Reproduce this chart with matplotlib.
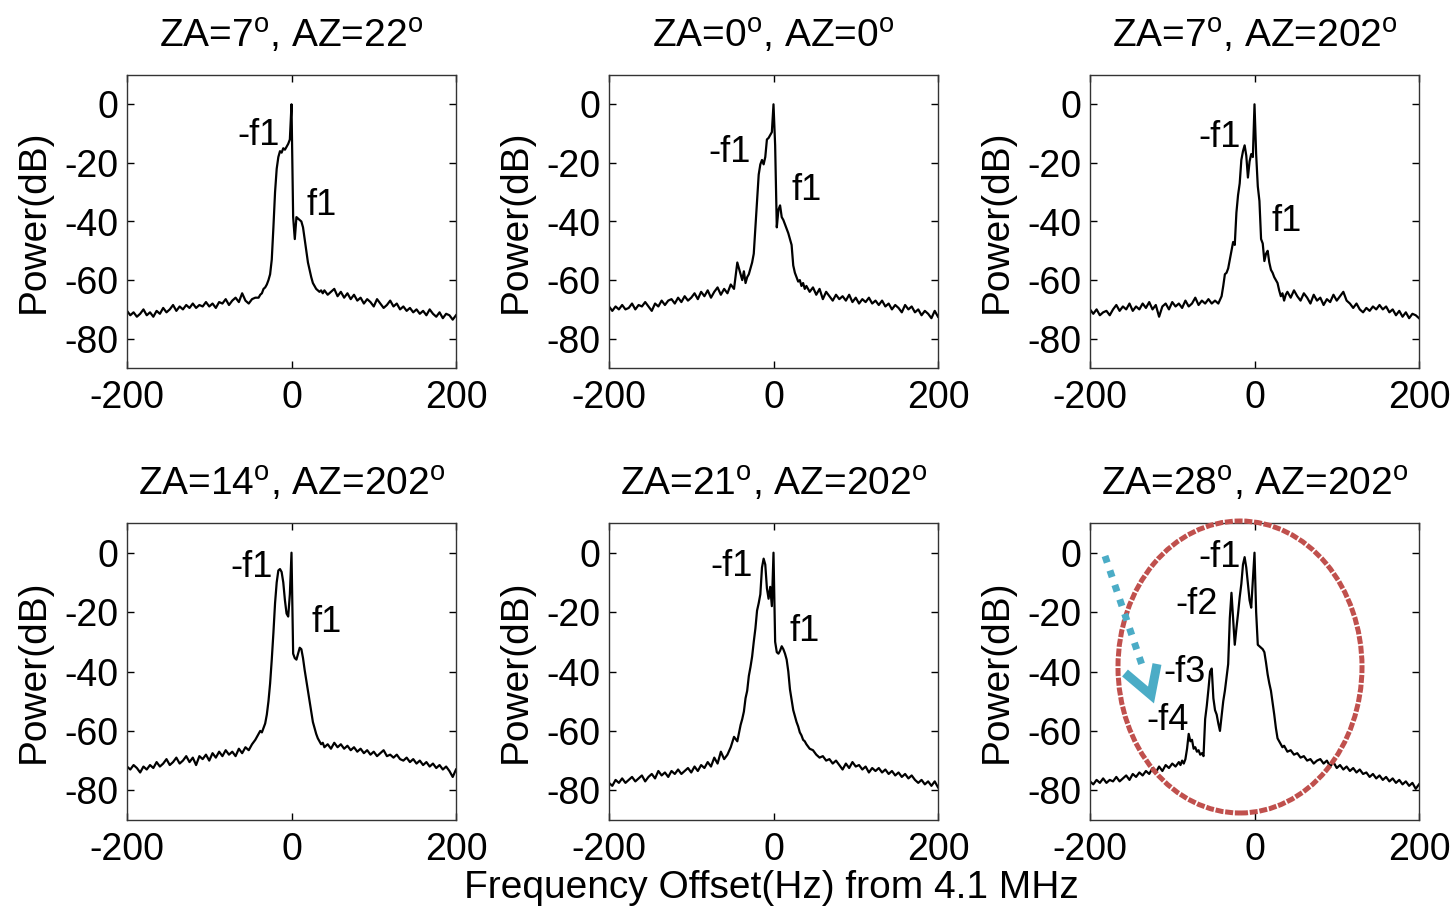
import numpy as np
import matplotlib
matplotlib.use('Agg')
import matplotlib.pyplot as plt
from matplotlib.patches import Ellipse
from matplotlib.lines import Line2D

plt.rcParams['font.family'] = ['Liberation Sans', 'DejaVu Sans']
plt.rcParams['mathtext.fontset'] = 'custom'
plt.rcParams['mathtext.rm'] = 'Liberation Sans'
plt.rcParams['mathtext.it'] = 'Liberation Sans:italic'
plt.rcParams['axes.unicode_minus'] = False

# ---------------- data ----------------
# sample frequencies (Hz offset) : coarse wings, fine centre
FREQ_A = np.concatenate([np.arange(-200, -40, 4), np.arange(-40, 40, 2), np.arange(40, 201, 4)])
FREQ_B = np.concatenate([np.arange(-200, -90, 4), np.arange(-90, 40, 2), np.arange(40, 201, 4)])

TITLES = ['ZA=7$^{\\rm o}$, AZ=22$^{\\rm o}$', 'ZA=0$^{\\rm o}$, AZ=0$^{\\rm o}$',
          'ZA=7$^{\\rm o}$, AZ=202$^{\\rm o}$', 'ZA=14$^{\\rm o}$, AZ=202$^{\\rm o}$',
          'ZA=21$^{\\rm o}$, AZ=202$^{\\rm o}$', 'ZA=28$^{\\rm o}$, AZ=202$^{\\rm o}$']

P1 = [-70.5, -72, -71, -72.5, -71.5, -70, -72, -71, -72.5, -70.5,
      -71.5, -69.5, -71, -70, -68.5, -70.5, -69, -70, -68.5, -69.5,
      -68, -69.5, -68.5, -69, -67.5, -69, -68, -69.5, -67.5, -68,
      -66.5, -68.5, -67, -66, -67.5, -64.5, -67, -68, -66.5, -66,
      -66, -65, -64.5, -63, -62.5, -61.5, -60, -58, -53, -42,
      -30, -22, -18, -16, -16.5, -15, -15.5, -14.5, -13.5, -12,
      0, -38.5, -46, -38.5, -39, -39.5, -40, -42, -46, -50,
      -54, -56.5, -59, -61, -62, -63, -63.5, -64, -63.5, -64.5,
      -63.5, -65, -64, -63, -65.5, -64, -66, -64.5, -66.5, -65,
      -67, -66, -68, -66.5, -67.5, -69, -66.5, -68, -69.5, -68.5,
      -67, -69, -68, -70, -69, -70.5, -69.5, -71, -70, -71.5,
      -70.5, -72, -70, -71.5, -72.5, -71, -73, -71.5, -72, -73.5, -72]

P2 = [-69, -70.5, -69, -70, -68.5, -70, -69.5, -68, -70, -68.5,
      -69, -67.5, -69, -70.5, -68, -69, -67, -68.5, -67, -66.5,
      -68, -66, -67.5, -65.5, -67, -66, -64.5, -66.5, -64, -65.5,
      -63.5, -66, -64, -62.5, -65, -63, -64.5, -61.5, -63, -54,
      -58, -60, -57, -61, -59, -58, -56, -54, -51, -42,
      -33, -24, -20.5, -19, -20.5, -18, -12, -11.5, -10.5, -9.5,
      0, -14, -42, -36, -34.5, -38.5, -39.5, -41, -42.5, -44,
      -46, -48, -55, -57.5, -59, -60.5, -60, -62, -61, -63,
      -62, -64, -62.5, -65, -63, -66.5, -64, -65.5, -67, -65,
      -66.5, -65.5, -67, -65, -67.5, -66, -68, -66.5, -67.5, -66,
      -68, -67, -68.5, -67, -69, -68, -70, -68.5, -69.5, -71,
      -68.5, -70, -69, -71, -70, -72, -70.5, -71.5, -73, -70.5, -72.5]

P3 = [-70, -71.5, -70, -72, -71, -70.5, -72, -70, -68.5, -70.5,
      -69, -70, -68, -70.5, -69, -70, -68, -69.5, -67.5, -70,
      -68.5, -72.5, -69, -68, -70, -67.5, -69, -68, -69.5, -67,
      -69, -68, -66, -68.5, -67, -68, -66.5, -68, -67, -68,
      -65.5, -62, -58, -57.5, -56, -53, -50, -47, -48, -37,
      -31, -27, -19, -16, -14, -17.5, -25, -19.5, -17, -18,
      0, -17, -28, -33, -46, -47.5, -53.5, -51, -50, -54,
      -56.5, -57.5, -59, -60, -61, -63.5, -65.5, -64.5, -67, -65,
      -64, -66, -63.5, -65.5, -67, -64.5, -66, -68, -65, -67,
      -66, -68.5, -66.5, -67.5, -65, -67, -65.5, -64, -67, -68,
      -69.5, -68, -70, -71, -69.5, -70.5, -69, -70, -68.5, -70,
      -69, -71, -70, -72, -70.5, -72.5, -71, -73, -71.5, -72, -73]

P4 = [-72, -73, -71.5, -72.5, -74, -72, -73, -71.5, -72.5, -70.5,
      -72, -71, -69.5, -71.5, -70.5, -69, -71, -70, -68.5, -70.5,
      -69, -71.5, -68.5, -69.5, -68, -70, -67.5, -69, -67, -68.5,
      -66.5, -68, -67, -68.5, -66, -67.5, -65.5, -66.5, -64.5, -63,
      -61, -60, -60.5, -59, -57.5, -54.5, -50, -44, -36, -27,
      -17, -10, -6, -5.5, -6.5, -10, -16, -20.5, -21.5, -14,
      0, -34, -35.5, -36, -34, -32, -32.5, -35.5, -39.5, -43,
      -46.5, -50, -53.5, -57, -59, -61, -62.5, -63.5, -64.5, -64,
      -65.5, -64.5, -66, -64, -65.5, -64.5, -66, -65, -66.5, -65.5,
      -67, -66, -67.5, -66.5, -68, -67, -68.5, -67.5, -66.5, -68.5,
      -68, -69, -68, -69.5, -70, -69, -70.5, -69.5, -71, -70,
      -71.5, -70.5, -72, -71, -72.5, -71.5, -73, -72, -73.5, -75.5, -73]

P5 = [-77.5, -78.5, -76.5, -77.5, -76, -77.5, -76.5, -75.5, -77, -76,
      -75, -77, -75.5, -74.5, -76, -73.5, -75, -74, -75.5, -73.5,
      -74.5, -73, -74.5, -73.5, -72.5, -74, -72, -73.5, -71.5, -72.5,
      -70.5, -72, -69, -71, -67, -69.5, -68, -65.5, -62, -63.5,
      -58, -56, -53.5, -49, -46.5, -41.5, -38.5, -35, -30, -25.5,
      -19.5, -17, -14, -5, -2, -4, -12, -15.5, -11.5, -18,
      0, -30, -33.5, -34, -33, -31.5, -32.5, -34, -36, -40,
      -46, -49.5, -53, -55, -57, -58.5, -60.5, -61.5, -63, -63.5,
      -64.5, -66, -66.5, -68, -69, -68.5, -70, -69.5, -71, -70,
      -71.5, -73, -71, -72.5, -70.5, -72, -71.5, -73, -72, -74,
      -72.5, -73.5, -72.5, -74, -73, -74.5, -73.5, -75, -74, -75.5,
      -74.5, -76, -75, -76.5, -77.5, -76.5, -78, -77, -78.5, -77, -79]

P6 = [-77, -78, -76.5, -77.5, -76, -77.5, -76.5, -77, -75.5, -77,
      -76, -75, -76.5, -74.5, -75.5, -74, -75, -73.5, -74.5, -72.5,
      -74, -72, -73.5, -71.5, -72.5, -71, -72, -70.5,
      -71.5, -70, -71, -69.5, -66, -61, -63.5, -63, -66, -65.5,
      -67, -66.5, -68, -67.5, -68.5, -56, -51.5, -46, -40, -39,
      -49, -53, -54.5, -57.5, -60, -55, -50, -46.5, -42, -37.5,
      -22, -13.5, -22, -31, -25.5, -20.5, -15, -10.5, -4, -1.5,
      -5, -10.5, -16, -18.5, -9.5, 0, -20, -31, -31.5, -32,
      -32.5, -33.5, -37, -41, -44, -46.5, -50.5, -54.5, -59, -62.5,
      -63.5, -64.5, -65.5, -65, -66,
      -67, -66.5, -68, -67.5, -69, -68.5, -70, -69.5, -71, -70,
      -69.5, -71, -70, -72, -70.5, -72.5, -71.5, -73, -72, -73.5,
      -72.5, -74, -73, -74.5, -74, -75.5, -74.5, -76, -75, -76.5,
      -75.5, -77, -76, -77.5, -76.5, -78, -77, -78.5, -77.5, -79.5, -78]

SERIES = [(FREQ_A, P1), (FREQ_A, P2), (FREQ_A, P3), (FREQ_A, P4), (FREQ_A, P5), (FREQ_B, P6)]

# annotation labels per panel: (text, freq, dB)
LABELS = [
    [('-f1', -40, -10.5), ('f1', 37, -34.5)],
    [('-f1', -53, -16.5), ('f1', 40, -29.5)],
    [('-f1', -42, -11.5), ('f1', 39, -40)],
    [('-f1', -48, -5), ('f1', 43, -23.5)],
    [('-f1', -51, -4.5), ('f1', 38, -26.5)],
    [('-f1', -42, -1.5), ('-f2', -70, -17.5), ('-f3', -85, -40.5), ('-f4', -106, -56.5)],
]

XTICKS = [-200, 0, 200]
YTICKS = [-80, -60, -40, -20, 0]

# ---------------- figure ----------------
W, H = 1456, 909
fig = plt.figure(figsize=(W / 100, H / 100), dpi=100)

col_left = [127, 609, 1090]
row_box = [(75, 368), (523, 820)]
axes = []
for i in range(6):
    r, c = divmod(i, 3)
    top, bot = row_box[r]
    ax = fig.add_axes([col_left[c] / W, 1 - bot / H, 329 / W, (bot - top) / H])
    axes.append(ax)
    f, p = SERIES[i]
    ax.plot(f, p, color='black', lw=1.6)
    ax.set_xlim(-200, 200)
    ax.set_ylim(-90, 10)
    ax.set_xticks(XTICKS)
    ax.set_yticks(YTICKS)
    ax.tick_params(direction='in', top=True, right=True, length=5, width=1,
                   labelsize=27, pad=9)
    ax.tick_params(axis='y', pad=6)
    for s in ax.spines.values():
        s.set_linewidth(1.0)
        s.set_color('#333333')
    ax.set_title(TITLES[i], fontsize=28, pad=20)
    ax.set_ylabel('Power(dB)', fontsize=28, labelpad=9)
    for txt, fx, fy in LABELS[i]:
        ax.text(fx, fy, txt, fontsize=26, ha='center', va='center')

fig.text(771 / W, 1 - 888 / H, 'Frequency Offset(Hz) from 4.1 MHz', fontsize=28,
         ha='center', va='center')

# red dashed ellipse around panel 6 spectrum
ell = Ellipse((1240 / W, 1 - 667 / H), 244 / W, 292 / H, transform=fig.transFigure,
              fill=False, edgecolor='#C0504D', lw=3.6, linestyle=(0, (1.6, 0.35)),
              clip_on=False)
fig.add_artist(ell)

# blue dotted arrow
fig.add_artist(Line2D([1105 / W, 1143 / W], [1 - 556 / H, 1 - 668 / H], transform=fig.transFigure,
                      color='#4BACC6', lw=5, linestyle=(0, (1, 1.2)), solid_capstyle='butt',
                      dash_capstyle='butt'))
fig.add_artist(Line2D([1125 / W, 1151 / W, 1157 / W], [1 - 673 / H, 1 - 695 / H, 1 - 664 / H],
                      transform=fig.transFigure, color='#4BACC6', lw=6.5,
                      solid_joinstyle='miter', solid_capstyle='butt'))

fig.savefig('out.png', dpi=100)
